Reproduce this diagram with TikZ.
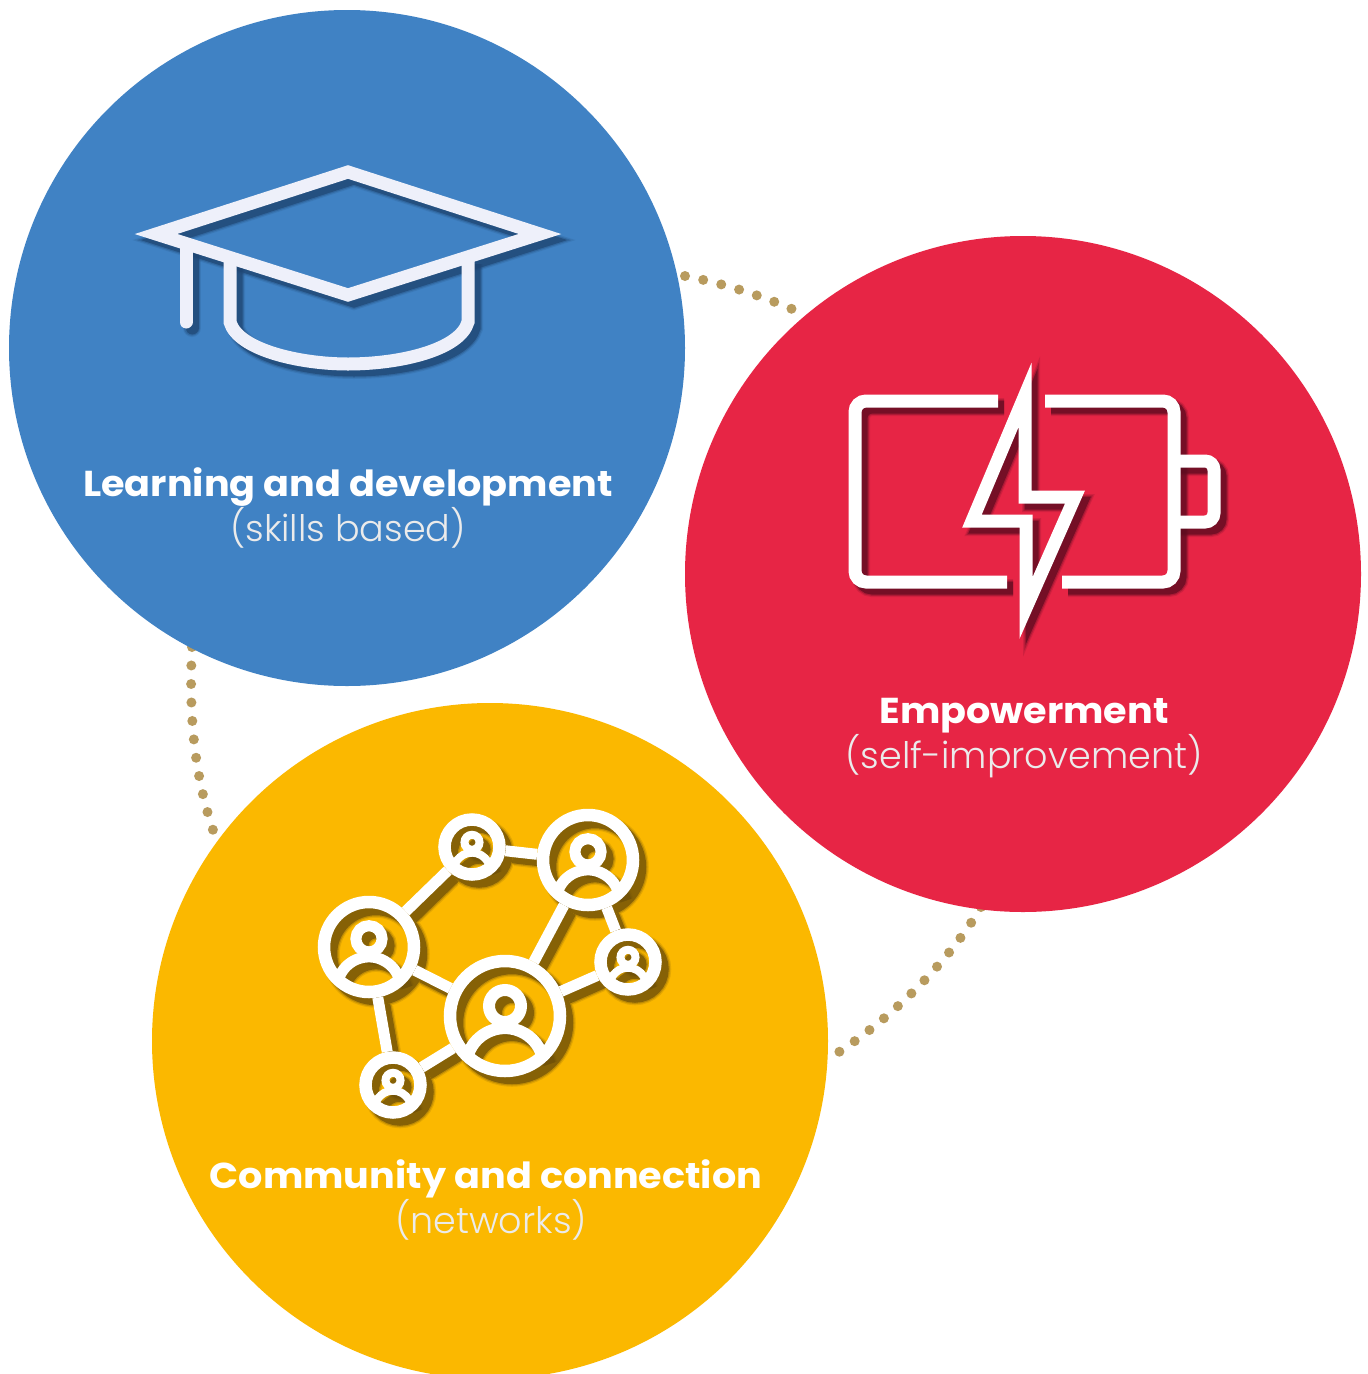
\documentclass[tikz,border=0pt]{standalone}
\usepackage{fontspec}
\setmainfont{Poppins}
\newfontfamily\headfont{Poppins Bold}[FakeStretch=1.06]
\newfontfamily\subfont{Poppins Light}
\definecolor{cblue}{HTML}{4082C4}
\definecolor{cred}{HTML}{E72545}
\definecolor{cyellow}{HTML}{FBB800}
\definecolor{dotc}{HTML}{B89B5E}
\definecolor{sblue}{HTML}{1F4673}
\definecolor{sred}{HTML}{5E0C20}
\definecolor{syellow}{HTML}{6E5008}
\definecolor{capc}{HTML}{EEF0FA}
\def\ex{0}
\tikzset{
  disc/.style={circle,minimum size=676pt,inner sep=0pt,outer sep=0pt,fill=#1},
  dots/.style={draw=dotc,line width=10pt,line cap=round,dash pattern=on 0pt off #1pt},
  icon/.style={line width={13pt+\ex pt},line join=miter,miter limit=10},
  head/.style={text=white,font=\headfont\fontsize{36}{36}\selectfont,inner sep=0pt},
  sub/.style={text=white!92!black,font=\subfont\fontsize{36.5}{36.5}\selectfont,inner sep=0pt},
  ring/.style={circle,draw=#1,inner sep=0pt,line width={12.5pt+\ex pt}},
  bigring/.style={ring=#1,minimum size=90pt},
  midring/.style={ring=#1,minimum size=110pt},
  smallring/.style={ring=#1,minimum size=55pt},
  link/.style={draw=#1,line width={11pt+\ex pt}}
}
% graduation cap
\newcommand{\capicon}[1]{%
  \draw[icon,draw=#1] (156,234) -- (348,172) -- (540,234) -- (348,295) -- cycle;
  \draw[icon,draw=#1,line cap=round] (186,244) -- (186,322);
  \draw[icon,draw=#1] (230,256) -- (230,322) .. controls (238,350) and (300,364) .. (348,364)
     .. controls (400,364) and (460,350) .. (468,322) -- (468,258);
}
% battery and bolt
\newcommand{\batteryicon}[1]{%
  \draw[icon,draw=#1,rounded corners=11pt] (998,401) -- (855,401) -- (855,582) -- (1007,582);
  \draw[icon,draw=#1,rounded corners=11pt] (1045,401) -- (1174,401) -- (1174,582) -- (1062,582);
  \draw[icon,draw=#1,rounded corners=9pt] (1174,461) -- (1214,461) -- (1214,522) -- (1174,522);
  \draw[icon,draw=#1] (1025,395) -- (972,521) -- (1026,521) -- (1026,608) -- (1075,497) -- (1025,497) -- cycle;
}
% one person inside a ring
\newcommand{\person}[5]{%
  \begin{scope}[shift={(#1,#2)},scale=#3]
    \draw[draw=#5,line width={#4pt+\ex pt}] (0,-10) circle[radius=16];
    \draw[draw=#5,line width={#4pt+\ex pt}] (-37.7,41) arc[start angle=195,end angle=345,radius=39];
  \end{scope}
}
% network of people
\newcommand{\neticon}[1]{%
  \node[smallring=#1] (pa) at (472,847) {};
  \node[bigring=#1]   (pb) at (588,860) {};
  \node[bigring=#1]   (pc) at (369,947) {};
  \node[midring=#1]   (pd) at (505,1016) {};
  \node[smallring=#1] (pe) at (628,962) {};
  \node[smallring=#1] (pf) at (393,1085) {};
  \draw[link=#1] (pa) -- (pb);
  \draw[link=#1] (pa) -- (pc);
  \draw[link=#1] (pb) -- (pd);
  \draw[link=#1] (pb) -- (pe);
  \draw[link=#1] (pc) -- (pd);
  \draw[link=#1] (pc) -- (pf);
  \draw[link=#1] (pd) -- (pe);
  \draw[link=#1] (pd) -- (pf);
  \person{505}{1016}{1}{12}{#1}
  \person{588}{860}{.82}{11}{#1}
  \person{369}{947}{.82}{11}{#1}
  \person{472}{847}{.47}{8}{#1}
  \person{628}{962}{.47}{8}{#1}
  \person{393}{1085}{.47}{8}{#1}
}
% soft shadow: three copies, widest and faintest first
\newcommand{\softshadow}[3]{%
  \begin{scope}[shift={(#3,#3)},opacity=.16]\def\ex{5}#1{#2}\end{scope}
  \begin{scope}[shift={(#3,#3)},opacity=.3]\def\ex{2.5}#1{#2}\end{scope}
  \begin{scope}[shift={(#3,#3)},opacity=.7]\def\ex{0}#1{#2}\end{scope}
}
\begin{document}
\begin{tikzpicture}[x=1pt,y=-1pt]
\useasboundingbox[fill=white] (0,0) rectangle (1368,1374);
% connector ends
\coordinate (ab1) at (685,276);
\coordinate (ab2) at (792,309);
\coordinate (ac1) at (192,647);
\coordinate (ac2) at (213,830);
\coordinate (bc1) at (981,907);
\coordinate (bc2) at (839,1052);
\draw[dots=18.6] (ab1) .. controls (721,283) and (757,294) .. (ab2);
\draw[dots=18.5] (ac1) .. controls (189,710) and (193,770) .. (ac2);
\draw[dots=18.55] (bc1) .. controls (950,960) and (895,1015) .. (bc2);
\node[disc=cblue]   (blue)   at (347,348)  {};
\node[disc=cred]    (red)    at (1023,574) {};
\node[disc=cyellow] (yellow) at (490,1041) {};
% icons
\softshadow{\capicon}{sblue}{6}
\capicon{capc}
\softshadow{\batteryicon}{sred}{6}
\batteryicon{white}
\softshadow{\neticon}{syellow}{7}
\neticon{white}
% labels
\node[head] (t1) at (348,487) {Learning and development};
\node[sub]  (s1) at (348,528) {(skills based)};
\node[head] (t2) at (1024,716) {Empowerment};
\node[sub]  (s2) at (1024,756) {(self-improvement)};
\node[head] (t3) at (486,1179) {Community and connection};
\node[sub]  (s3) at (491,1220) {(networks)};
\end{tikzpicture}
\end{document}
